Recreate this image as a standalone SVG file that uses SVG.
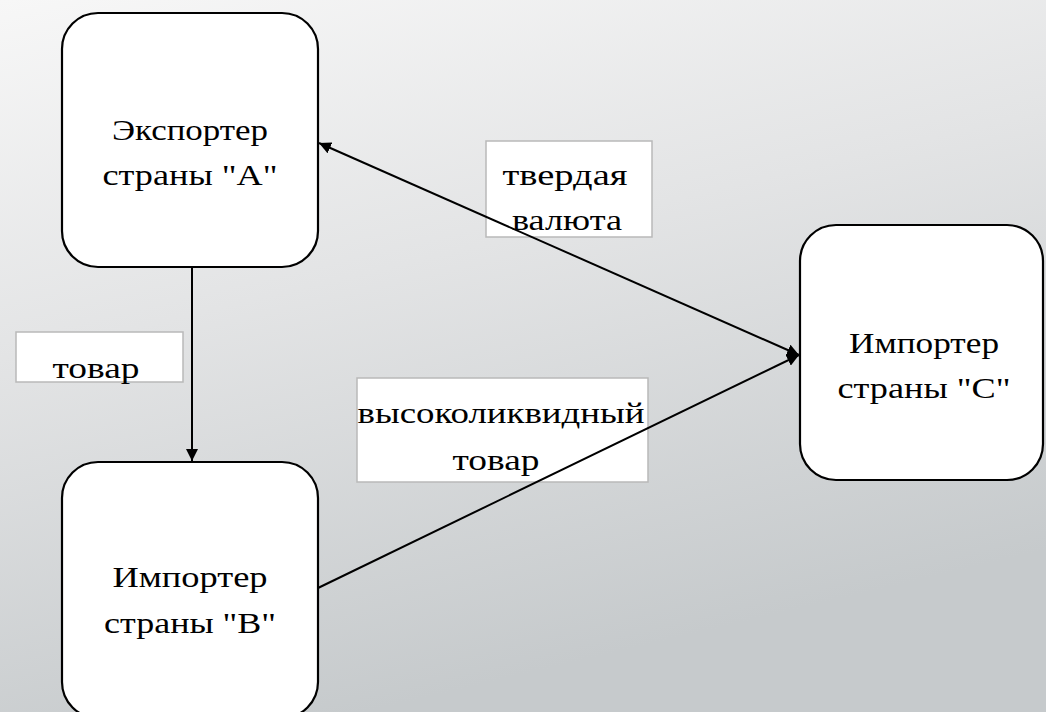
<svg xmlns="http://www.w3.org/2000/svg" width="1046" height="712" viewBox="0 0 1046 712">
<style>
.node{fill:#ffffff;stroke:#000;stroke-width:2.2}
.lbl{fill:#ffffff;stroke:#b9b9b9;stroke-width:1.5}
.t{font-family:"Liberation Serif","Times New Roman",serif;font-size:30px;fill:#000;text-anchor:middle}
.c{stroke:#000;stroke-width:2;fill:none}
</style>
<defs>
<linearGradient id="bg" x1="0" y1="0" x2="0.35" y2="1">
<stop offset="0" stop-color="#f7f7f7"/>
<stop offset="0.45" stop-color="#e3e4e5"/>
<stop offset="1" stop-color="#c6cacc"/>
</linearGradient>
<marker id="ah" viewBox="0 0 10 10" refX="10" refY="5" markerWidth="6" markerHeight="6" orient="auto-start-reverse" markerUnits="strokeWidth">
<path d="M0,0 L10,5 L0,10 z" fill="#000"/>
</marker>
</defs>
<rect x="0" y="0" width="1046" height="712" fill="url(#bg)"/>
<g id="label-tverdaya">
<rect class="lbl" x="486" y="141" width="166" height="96"/>
<text class="t" x="565" y="185" textLength="125" lengthAdjust="spacingAndGlyphs">твердая</text>
<text class="t" x="567" y="230" textLength="110" lengthAdjust="spacingAndGlyphs">валюта</text>
</g>
<g id="label-tovar">
<rect class="lbl" x="16" y="332" width="167" height="50"/>
<text class="t" x="96" y="378" textLength="87" lengthAdjust="spacingAndGlyphs">товар</text>
</g>
<g id="label-vysokolikvidny">
<rect class="lbl" x="357" y="378" width="291" height="104"/>
<text class="t" x="501" y="423" textLength="287" lengthAdjust="spacingAndGlyphs">высоколиквидный</text>
<text class="t" x="496" y="470" textLength="87" lengthAdjust="spacingAndGlyphs">товар</text>
</g>
<g id="connectors">
<line class="c" x1="192" y1="267" x2="192" y2="461" marker-end="url(#ah)"/>
<line class="c" x1="319" y1="143" x2="799" y2="355" marker-start="url(#ah)" marker-end="url(#ah)"/>
<line class="c" x1="318" y1="588" x2="799" y2="355" marker-end="url(#ah)"/>
</g>
<g id="node-a">
<rect class="node" x="62" y="13" width="256" height="254" rx="36" ry="36"/>
<text class="t" x="190" y="140" textLength="156" lengthAdjust="spacingAndGlyphs">Экспортер</text>
<text class="t" x="190" y="185" textLength="175" lengthAdjust="spacingAndGlyphs">страны "А"</text>
</g>
<g id="node-b">
<rect class="node" x="62" y="462" width="256" height="256" rx="36" ry="36"/>
<text class="t" x="190" y="587" textLength="155" lengthAdjust="spacingAndGlyphs">Импортер</text>
<text class="t" x="190" y="633" textLength="172" lengthAdjust="spacingAndGlyphs">страны "В"</text>
</g>
<g id="node-c">
<rect class="node" x="800" y="225" width="243" height="255" rx="36" ry="36"/>
<text class="t" x="924" y="353" textLength="150" lengthAdjust="spacingAndGlyphs">Импортер</text>
<text class="t" x="924" y="398" textLength="173" lengthAdjust="spacingAndGlyphs">страны "С"</text>
</g>
</svg>
